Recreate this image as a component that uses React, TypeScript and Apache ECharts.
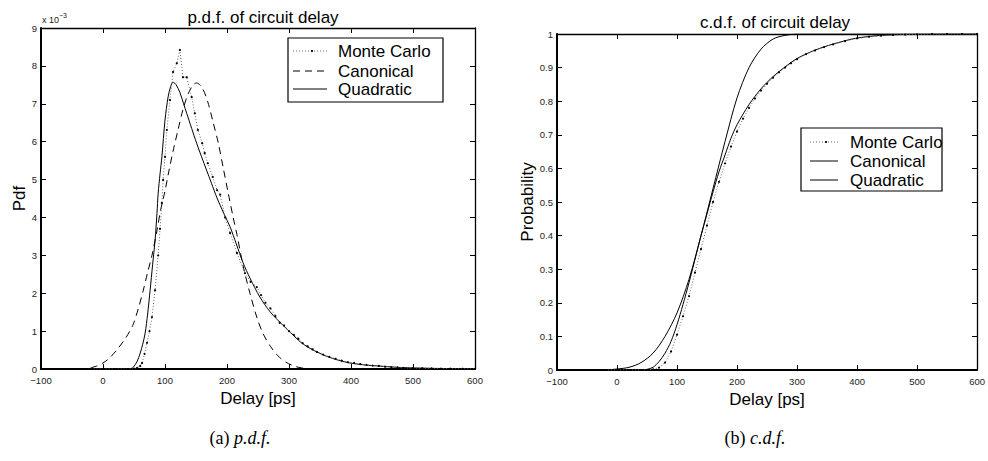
import React, { useEffect, useRef } from 'react';
import * as echarts from 'echarts';

// ---- axis ranges / ticks ----
const xMin = -100;
const xMax = 600;
const xStep = 100;
const pdfMax = 9;
const pdfStep = 1;
const cdfMax = 1;
const cdfStep = 0.1;

const seriesNames = ['Monte Carlo', 'Canonical', 'Quadratic'];
const titles = ['p.d.f. of circuit delay', 'c.d.f. of circuit delay'];
const xName = 'Delay [ps]';
const yNames = ['Pdf', 'Probability'];
const pdfScaleLabel = ['x 10', '\u22123'];
const captions = [['(a) ', 'p.d.f.'], ['(b) ', 'c.d.f.']];

// ---- p.d.f. data (values in units of 1e-3) ----
const mcPdf: [number, number][] = [
  [-20, 0], [0, 0], [20, 0], [40, 0], [50, 0.01], [55, 0.03], [60, 0.08], [63, 0.16], [67, 0.4],
  [71, 0.69], [75, 1.0], [79, 1.37], [84, 2.08], [89, 3.0], [92, 3.7], [95, 4.38], [97, 4.99],
  [100, 5.6], [103, 6.31], [108, 7.1], [113, 7.84], [119, 8.07], [124, 8.42], [129, 7.7],
  [135, 7.7], [143, 7.18], [148, 6.75], [153, 6.31], [160, 5.96], [164, 5.7], [169, 5.43],
  [177, 5.07], [184, 4.72], [189, 4.6], [197, 4.0], [205, 3.59], [216, 3.06], [229, 2.53],
  [238, 2.3], [248, 2.16], [255, 1.95], [262, 1.75], [270, 1.6], [278, 1.4], [285, 1.22],
  [292, 1.15], [300, 1.0], [308, 0.9], [315, 0.8], [322, 0.68], [330, 0.6], [338, 0.52],
  [345, 0.45], [355, 0.38], [365, 0.32], [375, 0.27], [385, 0.22], [395, 0.18], [405, 0.16],
  [415, 0.13], [425, 0.11], [435, 0.09], [445, 0.08], [455, 0.06], [465, 0.05], [475, 0.04],
  [485, 0.03], [500, 0.025], [515, 0.02], [530, 0.015], [545, 0.01], [560, 0.008], [580, 0.005],
  [600, 0.004],
];
const canonicalPdf: [number, number][] = [
  [-20, 0.03], [-10, 0.08], [0, 0.16], [10, 0.28], [22, 0.5], [35, 0.78], [48, 1.15], [57, 1.6],
  [65, 2.08], [72, 2.55], [79, 3.0], [87, 3.65], [93, 4.2], [100, 4.7], [106, 5.2], [113, 5.75],
  [121, 6.31], [129, 6.85], [137, 7.25], [145, 7.49], [151, 7.55], [160, 7.42], [169, 7.05],
  [177, 6.55], [186, 5.96], [194, 5.3], [202, 4.64], [210, 4.0], [216, 3.55], [226, 2.72],
  [237, 2.0], [248, 1.37], [258, 0.94], [270, 0.6], [282, 0.35], [295, 0.18], [308, 0.08],
  [320, 0.03], [335, 0.008], [350, 0],
];
const quadraticPdf: [number, number][] = [
  [40, 0], [45, 0.01], [49, 0.05], [55, 0.2], [60, 0.42], [64, 0.65], [68, 0.95], [72, 1.45],
  [76, 2.08], [80, 2.75], [84, 3.4], [87, 4.1], [89, 4.64], [92, 5.15], [95, 5.6], [100, 6.57],
  [105, 7.18], [109, 7.45], [113, 7.57], [118, 7.5], [124, 7.3], [130, 7.0], [135, 6.75],
  [143, 6.35], [151, 5.96], [159, 5.6], [167, 5.25], [175, 4.9], [184, 4.51], [195, 4.1],
  [205, 3.75], [215, 3.3], [226, 2.8], [237, 2.4], [253, 1.9], [270, 1.5], [290, 1.16],
  [305, 0.92], [318, 0.72], [330, 0.58], [345, 0.45], [360, 0.34], [380, 0.23], [398, 0.16],
  [420, 0.11], [452, 0.07], [480, 0.04], [510, 0.025], [550, 0.012], [600, 0.005],
];

// ---- c.d.f. data ----
const mcCdf: [number, number][] = [
  [-20, 0], [0, 0], [20, 0], [40, 0], [50, 0], [60, 0.002], [70, 0.007], [80, 0.022], [90, 0.055],
  [100, 0.105], [110, 0.16], [120, 0.22], [130, 0.29], [140, 0.36], [150, 0.43], [160, 0.5],
  [170, 0.56], [180, 0.615], [190, 0.665], [200, 0.71], [210, 0.748], [220, 0.78], [230, 0.808],
  [240, 0.832], [250, 0.852], [260, 0.87], [270, 0.886], [280, 0.9], [290, 0.913], [300, 0.925],
  [315, 0.94], [330, 0.951], [345, 0.961], [360, 0.969], [380, 0.979], [400, 0.987], [420, 0.992],
  [440, 0.995], [460, 0.997], [480, 0.998], [500, 0.999], [525, 1], [550, 1], [575, 1], [600, 1],
];
const canonicalCdf: [number, number][] = [
  [-20, 0], [0, 0.003], [20, 0.008], [40, 0.022], [60, 0.05], [80, 0.1], [100, 0.17], [120, 0.27],
  [140, 0.4], [160, 0.54], [180, 0.68], [200, 0.81], [220, 0.9], [240, 0.955], [260, 0.985],
  [280, 0.996], [300, 1], [400, 1], [500, 1], [600, 1],
];
const quadraticCdf: [number, number][] = [
  [40, 0], [50, 0.002], [60, 0.008], [70, 0.025], [80, 0.05], [90, 0.085], [100, 0.135],
  [110, 0.195], [120, 0.26], [130, 0.33], [140, 0.4], [150, 0.465], [160, 0.53], [170, 0.59],
  [180, 0.64], [190, 0.69], [200, 0.73], [220, 0.79], [240, 0.837], [260, 0.873], [280, 0.902],
  [300, 0.927], [330, 0.952], [360, 0.97], [400, 0.988], [450, 0.997], [500, 0.999], [600, 1],
];

const FONT = '"Liberation Sans", Arial, Helvetica, sans-serif';
const SERIF = '"Liberation Serif", "Times New Roman", serif';

const fmtX = (v: number) => (v < 0 ? '\u2212' + Math.abs(v) : String(v));

function buildAxes(grid: number, yMax: number, yStep: number, yName: string, yNameGap: number,
  xNameGap: number, yFmt: (v: number) => string) {
  const tick = { show: true, inside: true, length: 5, lineStyle: { color: '#000', width: 1 } };
  const xs = [
    {
      type: 'value', gridIndex: grid, min: xMin, max: xMax, interval: xStep, position: 'bottom',
      axisLine: { show: true, onZero: false, lineStyle: { color: '#000', width: 2 } },
      axisTick: tick,
      axisLabel: { show: true, fontSize: 9.5, color: '#222', margin: 6, fontFamily: FONT, formatter: fmtX },
      splitLine: { show: false },
      name: xName, nameLocation: 'middle', nameGap: xNameGap,
      nameTextStyle: { fontSize: 17, color: '#000', fontFamily: FONT },
    },
    {
      type: 'value', gridIndex: grid, min: xMin, max: xMax, interval: xStep, position: 'top',
      axisLine: { show: true, onZero: false, lineStyle: { color: '#000', width: 1.3 } },
      axisTick: tick, axisLabel: { show: false }, splitLine: { show: false },
    },
  ];
  const ys = [
    {
      type: 'value', gridIndex: grid, min: 0, max: yMax, interval: yStep, position: 'left',
      axisLine: { show: true, onZero: false, lineStyle: { color: '#000', width: 2 } },
      axisTick: tick,
      axisLabel: { show: true, fontSize: 9.5, color: '#222', margin: 4, fontFamily: FONT, formatter: yFmt },
      splitLine: { show: false },
      name: yName, nameLocation: 'middle', nameGap: yNameGap, nameRotate: 90,
      nameTextStyle: { fontSize: 17, color: '#000', fontFamily: FONT },
    },
    {
      type: 'value', gridIndex: grid, min: 0, max: yMax, interval: yStep, position: 'right',
      axisLine: { show: true, onZero: false, lineStyle: { color: '#000', width: 1.3 } },
      axisTick: tick, axisLabel: { show: false }, splitLine: { show: false },
    },
  ];
  return { xs, ys };
}

function mcSeries(data: [number, number][], axisIdx: number) {
  return {
    type: 'line', name: seriesNames[0], data, xAxisIndex: axisIdx, yAxisIndex: axisIdx,
    showSymbol: true, symbol: 'circle', symbolSize: 2.2,
    itemStyle: { color: '#000' },
    lineStyle: { color: '#666', width: 1, type: [1, 2] }, z: 3,
  };
}
function curveSeries(name: string, data: [number, number][], axisIdx: number, dashed: boolean) {
  return {
    type: 'line', name, data, xAxisIndex: axisIdx, yAxisIndex: axisIdx,
    showSymbol: false, smooth: 0.3,
    lineStyle: { color: '#000', width: 1, type: dashed ? [7, 5] : 'solid' }, z: 2,
  };
}

function legendBox(x: number, y: number, w: number, h: number, rows: number[], lineX0: number,
  lineX1: number, textX: number, styles: ('dot' | 'dash' | 'solid')[]) {
  const children: any[] = [
    { type: 'rect', shape: { x, y, width: w, height: h }, style: { fill: '#fff', stroke: '#000', lineWidth: 1.2 } },
  ];
  rows.forEach((ry, i) => {
    const s = styles[i];
    children.push({
      type: 'line', shape: { x1: lineX0, y1: ry, x2: lineX1, y2: ry },
      style: {
        stroke: s === 'dot' ? '#666' : '#000', lineWidth: 1,
        lineDash: s === 'dot' ? [1, 2] : s === 'dash' ? [7, 5] : null,
      },
    });
    if (s === 'dot') {
      children.push({ type: 'circle', shape: { cx: (lineX0 + lineX1) / 2 + 2, cy: ry, r: 1.1 }, style: { fill: '#000' } });
    }
    children.push({
      type: 'text', x: textX, y: ry,
      style: { text: seriesNames[i], fontSize: 17, fontFamily: FONT, fill: '#000', verticalAlign: 'middle', align: 'left' },
    });
  });
  return { type: 'group', children };
}

function caption(cx: number, cy: number, parts: string[]) {
  return {
    type: 'text', x: cx, y: cy,
    style: {
      text: `{a|${parts[0]}}{b|${parts[1]}}`, align: 'center', verticalAlign: 'middle',
      rich: {
        a: { fontSize: 18, fontFamily: SERIF, fill: '#000' },
        b: { fontSize: 18, fontFamily: SERIF, fontStyle: 'italic', fill: '#000' },
      },
    },
  };
}

export default function App() {
  const ref = useRef<HTMLDivElement>(null);
  useEffect(() => {
    if (!ref.current) return;
    const chart = echarts.init(ref.current, null, { renderer: 'svg' });
    const a = buildAxes(0, pdfMax, pdfStep, yNames[0], 12, 15, (v) => String(v));
    const b = buildAxes(1, cdfMax, cdfStep, yNames[1], 20, 10, (v) => String(Math.round(v * 10) / 10));
    const option: any = {
      animation: false,
      backgroundColor: '#fff',
      textStyle: { fontFamily: FONT },
      title: [
        { text: titles[0], left: 258, top: 4, textAlign: 'center', textStyle: { fontSize: 17, fontWeight: 'normal', color: '#000', fontFamily: FONT } },
        { text: titles[1], left: 770, top: 9, textAlign: 'center', textStyle: { fontSize: 17, fontWeight: 'normal', color: '#000', fontFamily: FONT } },
      ],
      grid: [
        { left: 41, top: 28, width: 434, height: 341, containLabel: false },
        { left: 557, top: 34, width: 427, height: 336, containLabel: false },
      ],
      xAxis: [...a.xs, ...b.xs],
      yAxis: [...a.ys, ...b.ys],
      series: [
        mcSeries(mcPdf, 0),
        curveSeries(seriesNames[1], canonicalPdf, 0, true),
        curveSeries(seriesNames[2], quadraticPdf, 0, false),
        mcSeries(mcCdf, 2),
        curveSeries(seriesNames[1], canonicalCdf, 2, false),
        curveSeries(seriesNames[2], quadraticCdf, 2, false),
      ],
      graphic: [
        { type: 'text', x: 42, y: 20, style: { text: pdfScaleLabel[0], fontSize: 9, fontFamily: FONT, fill: '#222', verticalAlign: 'middle' } },
        { type: 'text', x: 59, y: 15.5, style: { text: pdfScaleLabel[1], fontSize: 7, fontFamily: FONT, fill: '#222', verticalAlign: 'middle' } },
        legendBox(288, 38, 155, 64, [51, 71, 89], 293, 327, 338, ['dot', 'dash', 'solid']),
        legendBox(801, 128, 141, 63, [142, 161, 180], 810, 838, 850, ['dot', 'solid', 'solid']),
        caption(240, 438, captions[0]),
        caption(755, 438, captions[1]),
      ],
    };
    chart.setOption(option);
    return () => chart.dispose();
  }, []);
  return <div ref={ref} style={{ position: 'fixed', left: 0, top: 0, width: 988, height: 461, background: '#fff' }} />;
}
